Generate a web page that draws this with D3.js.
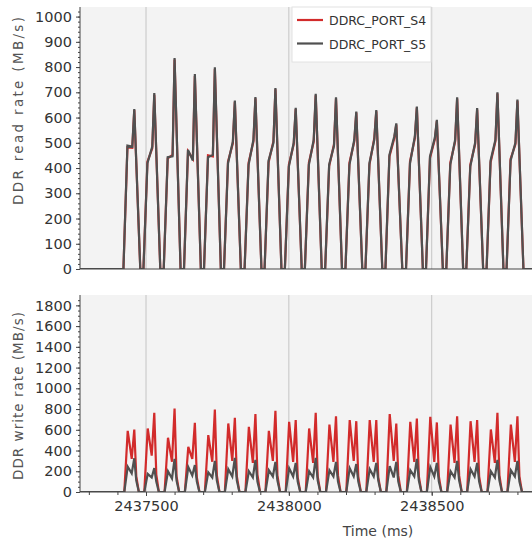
<!DOCTYPE html>
<html>
<head>
<meta charset="utf-8">
<script src="https://cdn.jsdelivr.net/npm/d3@7/dist/d3.min.js"></script>
<style>
  body { margin: 0; background: #fff; }
  text { font-family: "DejaVu Sans", sans-serif; }
</style>
</head>
<body>
<div id="chart"></div>
<script>
/***** Data *****/
var timeRange = [2437269, 2438851];          // ms, visible x span
var xMajor = [2437500, 2438000, 2438500];
var seriesNames = ["DDRC_PORT_S4", "DDRC_PORT_S5"];

// time of each read burst peak (ms)
var peakTimes = [2437459, 2437529, 2437600, 2437671, 2437741, 2437811, 2437883,
                 2437953, 2438024, 2438094, 2438165, 2438236, 2438306, 2438376,
                 2438448, 2438518, 2438589, 2438659, 2438730, 2438800];

// sample times relative to the burst peak (ms)
var readOffsets = [-38, -24, -7, 0, 21];
var writeOffsets = [-35, -23, -9, 0, 7, 16];

// read rate MB/s, one row per burst
var readS5 = [
  [0, 489, 485, 634, 0], [0, 419, 485, 697, 0], [0, 443, 446, 836, 0], [0, 472, 430, 772, 0],
  [0, 443, 452, 799, 0], [0, 419, 505, 667, 0], [0, 413, 512, 681, 0], [0, 429, 500, 717, 0],
  [0, 406, 500, 639, 0], [0, 413, 512, 694, 0], [0, 413, 488, 680, 0], [0, 413, 512, 624, 0],
  [0, 419, 512, 630, 0], [0, 452, 525, 577, 0], [0, 419, 525, 644, 0], [0, 446, 520, 591, 0],
  [0, 413, 512, 680, 0], [0, 406, 500, 638, 0], [0, 429, 512, 700, 0], [0, 429, 500, 671, 0]
];
var readS4 = [
  [0, 482, 480, 630, 0], [0, 425, 478, 690, 0], [0, 438, 452, 830, 0], [0, 466, 436, 765, 0],
  [0, 450, 446, 792, 0], [0, 425, 498, 662, 0], [0, 420, 505, 676, 0], [0, 422, 506, 712, 0],
  [0, 412, 494, 634, 0], [0, 420, 505, 688, 0], [0, 407, 494, 675, 0], [0, 420, 505, 620, 0],
  [0, 413, 518, 625, 0], [0, 446, 518, 572, 0], [0, 425, 518, 640, 0], [0, 440, 514, 586, 0],
  [0, 420, 505, 675, 0], [0, 412, 494, 632, 0], [0, 422, 506, 695, 0], [0, 436, 494, 666, 0]
];

// write rate MB/s, one row per burst
var writeS4 = [
  [0, 590, 320, 603, 150, 0], [0, 613, 350, 763, 170, 0], [0, 523, 292, 805, 150, 0], [0, 436, 320, 667, 140, 0],
  [0, 549, 292, 796, 160, 0], [0, 661, 300, 715, 150, 0], [0, 628, 280, 751, 170, 0], [0, 590, 300, 783, 160, 0],
  [0, 677, 290, 693, 140, 0], [0, 613, 280, 763, 150, 0], [0, 651, 290, 731, 160, 0], [0, 693, 300, 683, 150, 0],
  [0, 693, 290, 693, 140, 0], [0, 751, 300, 661, 160, 0], [0, 677, 290, 709, 150, 0], [0, 725, 290, 671, 150, 0],
  [0, 651, 280, 731, 160, 0], [0, 683, 290, 693, 150, 0], [0, 603, 280, 763, 160, 0], [0, 651, 290, 731, 150, 0]
];
var writeS5 = [
  [0, 244, 180, 325, 110, 0], [0, 175, 140, 230, 100, 0], [0, 200, 130, 320, 110, 0], [0, 240, 160, 260, 100, 0],
  [0, 190, 140, 300, 110, 0], [0, 220, 150, 330, 110, 0], [0, 200, 140, 310, 100, 0], [0, 210, 150, 290, 110, 0],
  [0, 230, 150, 280, 100, 0], [0, 200, 140, 330, 110, 0], [0, 210, 150, 290, 100, 0], [0, 230, 150, 270, 100, 0],
  [0, 220, 150, 280, 110, 0], [0, 250, 140, 290, 100, 0], [0, 210, 150, 320, 110, 0], [0, 240, 150, 280, 100, 0],
  [0, 200, 140, 300, 110, 0], [0, 220, 150, 280, 100, 0], [0, 200, 140, 310, 110, 0], [0, 210, 150, 300, 100, 0]
];

/***** Helpers *****/
function cyclePoints(offsets, rows) {
    var pts = [[timeRange[0], 0]];
    rows.forEach(function(row, i) {
        row.forEach(function(v, j) { pts.push([peakTimes[i] + offsets[j], v]); });
    });
    pts.push([timeRange[1], 0]);
    return pts;
}

function styleTicks(g) {
    g.attr("font-family", null).attr("font-size", null);
    g.select(".domain").remove();
    g.selectAll("line").attr("stroke", "#444");
    g.selectAll("text").attr("fill", "#333").style("font-size", "14.5px");
}

function drawPanel(svg, p) {
    var g = svg.append("g");

    g.append("rect")
     .attr("x", p.x.range()[0]).attr("y", p.y.range()[1])
     .attr("width", p.x.range()[1] - p.x.range()[0])
     .attr("height", p.y.range()[0] - p.y.range()[1])
     .attr("fill", "#f3f3f3");

    // vertical grid lines
    g.selectAll(".grid")
     .data(xMajor)
     .enter()
     .append("line")
     .attr("x1", function(d) { return p.x(d); })
     .attr("x2", function(d) { return p.x(d); })
     .attr("y1", p.y.range()[1])
     .attr("y2", p.y.range()[0])
     .attr("stroke", "#c4c4c4")
     .attr("stroke-width", 1);

    var clipId = "clip-" + p.name;
    svg.append("clipPath").attr("id", clipId)
       .append("rect")
       .attr("x", p.x.range()[0]).attr("y", p.y.range()[1] - 2)
       .attr("width", p.x.range()[1] - p.x.range()[0])
       .attr("height", p.y.range()[0] - p.y.range()[1] + 2);

    var line = d3.line()
                 .x(function(d) { return p.x(d[0]); })
                 .y(function(d) { return p.y(d[1]); });

    p.series.forEach(function(s) {
        g.append("path")
         .datum(s.points)
         .attr("clip-path", "url(#" + clipId + ")")
         .attr("fill", "none")
         .attr("stroke", s.color)
         .attr("stroke-width", s.width)
         .attr("stroke-linejoin", "miter")
         .attr("d", line);
    });

    // y axis: minor + major ticks
    g.append("g")
     .attr("transform", "translate(" + p.x.range()[0] + ",0)")
     .call(d3.axisLeft(p.y).tickValues(p.yMinor).tickSize(2).tickFormat(""))
     .call(styleTicks);
    g.append("g")
     .attr("transform", "translate(" + p.x.range()[0] + ",0)")
     .call(d3.axisLeft(p.y).tickValues(p.yMajor).tickSize(4).tickPadding(4).tickFormat(d3.format("d")))
     .call(styleTicks);

    g.append("line")
     .attr("x1", p.x.range()[0]).attr("x2", p.x.range()[0])
     .attr("y1", p.y.range()[1]).attr("y2", p.y.range()[0])
     .attr("stroke", "#444");
    g.append("line")
     .attr("x1", p.x.range()[0]).attr("x2", p.x.range()[1])
     .attr("y1", p.y.range()[0]).attr("y2", p.y.range()[0])
     .attr("stroke", "#444");

    g.append("text")
     .attr("transform", "translate(23," + p.titleY + ") rotate(-90)")
     .attr("text-anchor", "middle")
     .attr("textLength", p.titleLength)
     .attr("lengthAdjust", "spacing")
     .attr("fill", "#555")
     .style("font-size", "13.5px")
     .text(p.title);

    return g;
}

(function (d3) {
    var width = 532, height = 543;
    var svg = d3.select("#chart")
                .append("svg")
                .attr("width", width)
                .attr("height", height);

    var x = d3.scaleLinear().domain(timeRange).range([80, 532]);
    var yRead = d3.scaleLinear().domain([0, 1038]).range([269, 7]);
    var yWrite = d3.scaleLinear().domain([0, 1900]).range([492, 295]);

    var red = "#d22b2b", gray = "#505050";

    drawPanel(svg, {
        name: "read", x: x, y: yRead,
        yMajor: d3.range(0, 1001, 100), yMinor: d3.range(0, 1031, 20),
        title: "DDR read rate (MB/s)", titleY: 111, titleLength: 188,
        series: [
            {points: cyclePoints(readOffsets, readS4), color: red, width: 2.2},
            {points: cyclePoints(readOffsets, readS5), color: gray, width: 2.2}
        ]
    });

    var bottom = drawPanel(svg, {
        name: "write", x: x, y: yWrite,
        yMajor: d3.range(0, 1801, 200), yMinor: d3.range(0, 1851, 50),
        title: "DDR write rate (MB/s)", titleY: 396, titleLength: 168,
        series: [
            {points: cyclePoints(writeOffsets, writeS4), color: red, width: 2.2},
            {points: cyclePoints(writeOffsets, writeS5), color: gray, width: 2.2}
        ]
    });

    // x axis on the bottom panel
    bottom.append("g")
     .attr("transform", "translate(0,492)")
     .call(d3.axisBottom(x).tickValues(d3.range(2437300, 2438900, 100)).tickSize(3).tickFormat(""))
     .call(styleTicks);
    bottom.append("g")
     .attr("transform", "translate(0,492)")
     .call(d3.axisBottom(x).tickValues(xMajor).tickSize(4).tickPadding(5).tickFormat(d3.format("d")))
     .call(styleTicks);

    svg.append("text")
       .attr("x", 378).attr("y", 536)
       .attr("text-anchor", "middle")
       .attr("fill", "#444")
       .style("font-size", "14px")
       .text("Time (ms)");

    // legend
    var legend = svg.append("g");
    legend.append("rect")
          .attr("x", 292).attr("y", 7)
          .attr("width", 139).attr("height", 55)
          .attr("fill", "#fff")
          .attr("stroke", "#e2e2e2");
    var item = legend.selectAll(".item")
                     .data(seriesNames)
                     .enter()
                     .append("g")
                     .attr("transform", function(d, i) { return "translate(0," + (20 + i * 23.5) + ")"; });
    item.append("line")
        .attr("x1", 297).attr("x2", 323)
        .attr("stroke", function(d, i) { return i === 0 ? red : gray; })
        .attr("stroke-width", 2.2);
    item.append("text")
        .attr("x", 329).attr("y", 5)
        .attr("fill", "#333")
        .style("font-size", "12.5px")
        .text(function(d) { return d; });
})(d3);
</script>
</body>
</html>
